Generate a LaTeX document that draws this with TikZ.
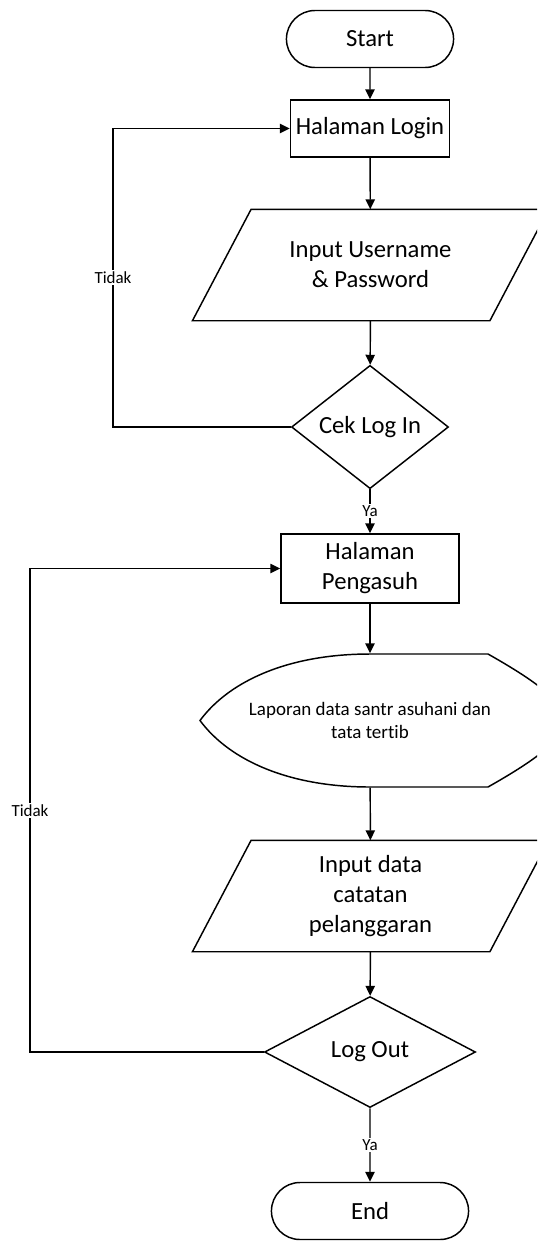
\documentclass[tikz,border=0pt]{standalone}
\usepackage{fontspec}
\setmainfont{Carlito}[Ligatures=NoCommon]
\usetikzlibrary{arrows.meta,shapes.geometric,shapes.misc}
\newcommand{\ioframe}[1]{\draw ([xshift=22pt]#1.north west) -- ([xshift=22pt]#1.north east)
	-- ([xshift=-22pt]#1.south east) -- ([xshift=-22pt]#1.south west) -- cycle;}

\begin{document}
\begin{tikzpicture}[x=0.75pt,y=-0.75pt,
		line width=1.1pt,
		>={Triangle[length=7.5pt,width=7pt]},
		every node/.style={font=\fontsize{18.5}{22.5}\selectfont, align=center},
		term/.style={draw, rounded rectangle, minimum width=132pt, minimum height=42.75pt},
		proc/.style={draw, rectangle, inner sep=2pt, minimum width=119.25pt, minimum height=42.75pt},
		io/.style={rectangle, inner sep=2pt, minimum width=222pt, minimum height=82.5pt},
		cond/.style={draw, diamond, inner sep=0pt},
		lbl/.style={font=\fontsize{12.75}{15}\selectfont, fill=white, inner sep=1pt}]
	\useasboundingbox (0,0) rectangle (537,1254);
	\clip (0,0) rectangle (537,1254);
	\node[term] (start) at (370,39) {Start};
	\node[proc] (login) at (370,128.5) {Halaman Login};
	\node[io] (user) at (370.5,265) {Input Username\\ \& Password};
	\ioframe{user}
	\node[cond, minimum width=117.75pt, minimum height=81pt] (cek) at (370,427) {Cek Log In};
	\node[proc, minimum width=133.5pt, minimum height=51.75pt] (pengasuh) at (370,568.5) {Halaman\\Pengasuh};
	\node[minimum width=270pt, minimum height=99.75pt, font=\fontsize{14.25}{17.25}\selectfont] (lap) at (370,720.5)
		{Laporan data santr asuhani dan\\tata tertib};
	\draw (370,654) -- (488,654) .. controls (525,675) and (565,700) .. (565,720.5)
		.. controls (565,741) and (525,766) .. (488,787) -- (370,787)
		.. controls (290,787) and (230,761) .. (200,720.5)
		.. controls (230,680) and (290,654) .. (370,654);
	\node[io] (data) at (370.5,896) {Input data\\catatan\\pelanggaran};
	\ioframe{data}
	\node[cond, minimum width=158.25pt, minimum height=83.25pt] (logout) at (370,1052) {Log Out};
	\node[term, minimum width=154.5pt] (end) at (370,1211) {End};
	\coordinate (k1) at (113,427);
	\coordinate (k2) at (30,1052);
	\path[->]
		(start) edge (login)
		(login) edge (user)
		(user) edge (cek)
		(cek) edge node[lbl]{Ya} (pengasuh)
		(pengasuh) edge (lap)
		(lap) edge (data)
		(data) edge (logout)
		(logout) edge node[lbl]{Ya} (end);
	\draw[->] (cek.west) -- (k1) -- node[lbl]{Tidak} (k1 |- login.west) -- (login.west);
	\draw[->] (logout.west) -- (k2) -- node[lbl]{Tidak} (k2 |- pengasuh.west) -- (pengasuh.west);
\end{tikzpicture}
\end{document}
